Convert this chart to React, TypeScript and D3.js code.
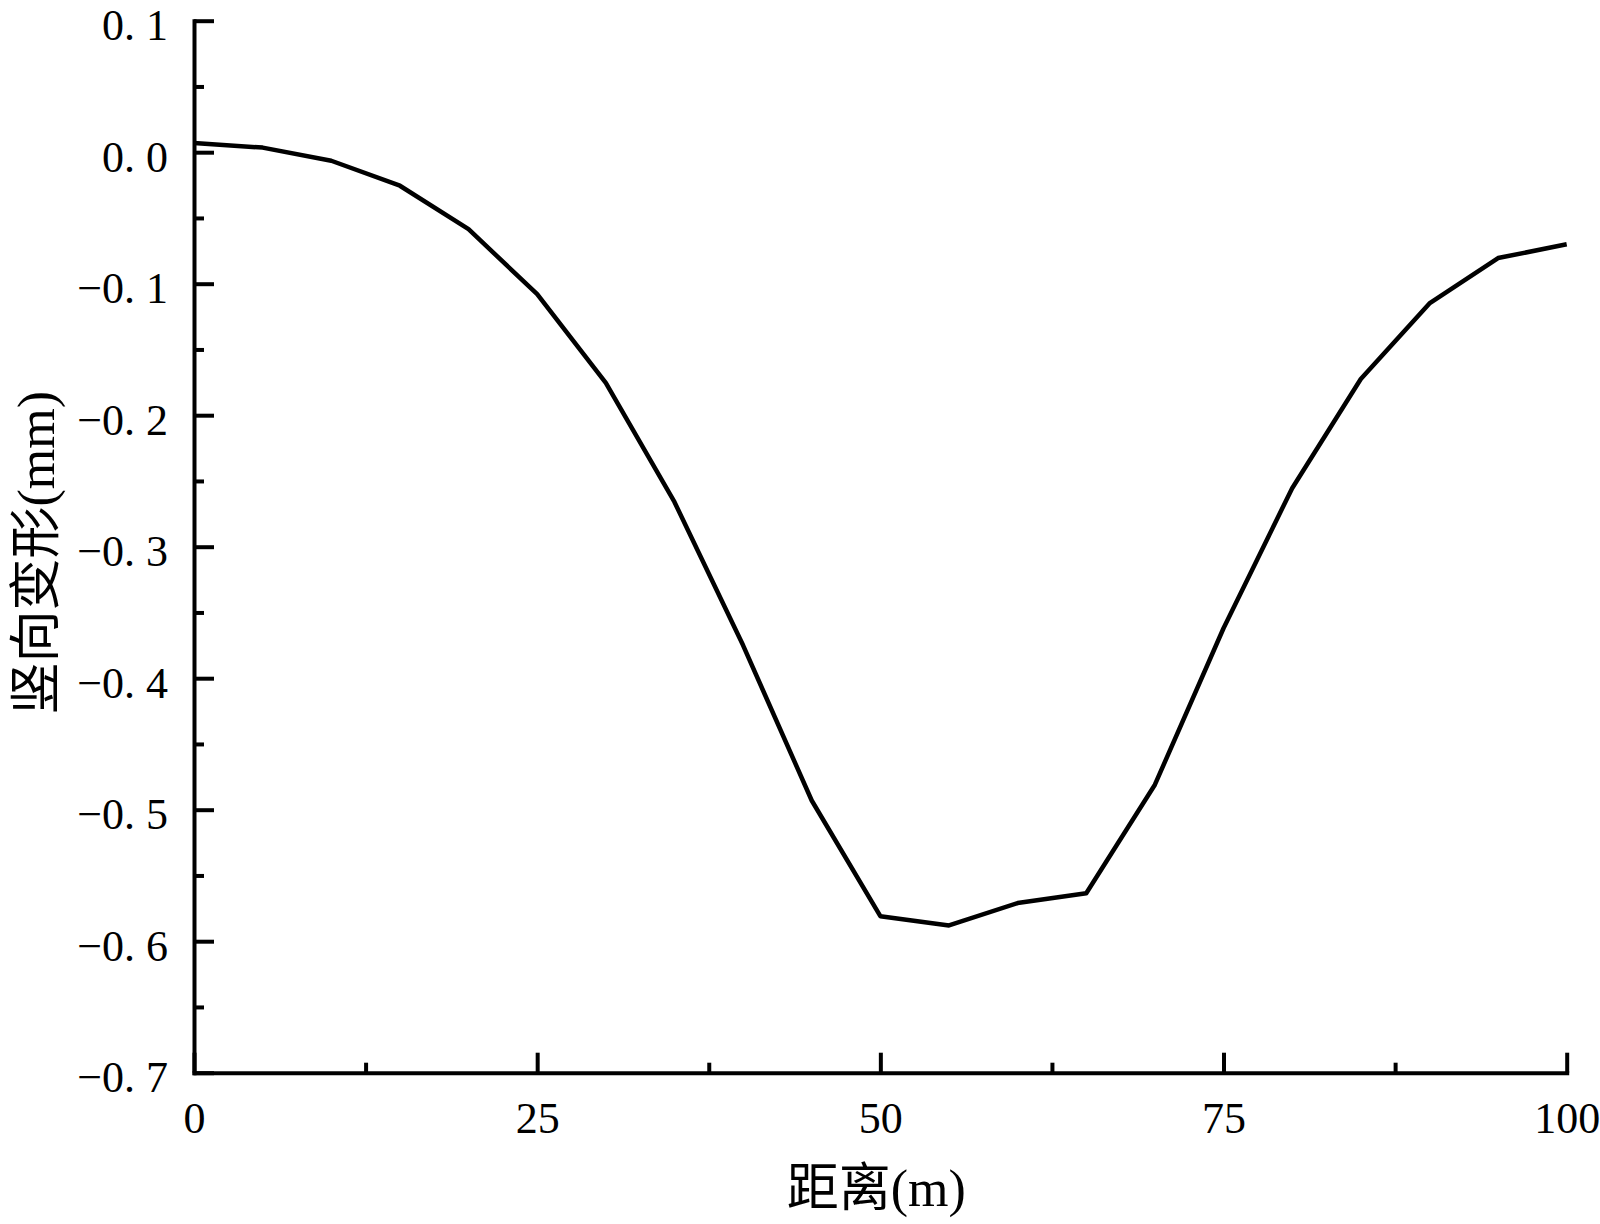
import React, { useEffect, useRef } from 'react';
import * as d3 from 'd3';

// distance along the line (m)
const distances = [0, 5, 10, 15, 20, 25, 30, 35, 40, 45, 50, 55, 60, 65, 70, 75, 80, 85, 90, 95, 100];
// vertical deformation (mm)
const deformation = [
  0.007, 0.0035, -0.0065, -0.0255, -0.0585, -0.108, -0.1755, -0.266, -0.375, -0.493,
  -0.581, -0.588, -0.571, -0.5635, -0.481, -0.362, -0.2555, -0.1725, -0.115, -0.0805, -0.07,
];

const xMajorTicks = [0, 25, 50, 75, 100];
const xMinorTicks = [12.5, 37.5, 62.5, 87.5];
const yMajorTicks = [0.1, 0, -0.1, -0.2, -0.3, -0.4, -0.5, -0.6, -0.7];
const yMinorTicks = [0.05, -0.05, -0.15, -0.25, -0.35, -0.45, -0.55, -0.65];

const xTitle = '距离(m)';
const yTitle = '竖向变形(mm)';

const W = 1600;
const H = 1224;

const App = () => {
  const ref = useRef<SVGSVGElement | null>(null);

  useEffect(() => {
    document.body.style.margin = '0';
    if (!ref.current) return;
    const svg = d3.select(ref.current);
    svg.selectAll('*').remove();

    const margin = { top: 20.7, right: 33.3, bottom: 151.3, left: 194 };
    const width = W - margin.left - margin.right;
    const height = H - margin.top - margin.bottom;
    const numFont = '"Liberation Serif", "DejaVu Serif", serif';
    const cjkFont = '"Liberation Serif", "Noto Sans CJK SC", serif';

    const g = svg.append('g').attr('transform', `translate(${margin.left},${margin.top})`);

    const x = d3.scaleLinear().domain([0, 100]).range([0, width]);
    const y = d3.scaleLinear().domain([-0.7, 0.1]).range([height, 0]);

    const data = distances.map((d, i) => ({ d, v: deformation[i] }));

    // curve
    g.append('path')
      .datum(data)
      .attr('fill', 'none')
      .attr('stroke', '#000')
      .attr('stroke-width', 4.5)
      .attr('stroke-linejoin', 'round')
      .attr('d', d3.line<{ d: number; v: number }>().x(p => x(p.d)).y(p => y(p.v)));

    const fmtY = d3.format('.1f');

    // minor ticks first
    g.append('g')
      .attr('transform', `translate(0,${height})`)
      .call(d3.axisBottom(x).tickValues(xMinorTicks).tickSize(-10).tickFormat(() => ''))
      .call(a => a.select('.domain').remove())
      .selectAll('line').attr('stroke-width', 4);

    g.append('g')
      .call(d3.axisLeft(y).tickValues(yMinorTicks).tickSize(-10).tickFormat(() => ''))
      .call(a => a.select('.domain').remove())
      .selectAll('line').attr('stroke-width', 4);

    // major x axis
    const xAxis = g.append('g')
      .attr('transform', `translate(0,${height})`)
      .call(d3.axisBottom(x).tickValues(xMajorTicks).tickSizeInner(-20).tickSizeOuter(0).tickPadding(29).tickFormat(d3.format('d')));
    xAxis.select('.domain').attr('stroke-width', 4).attr('stroke-linecap', 'square');
    xAxis.selectAll('line').attr('stroke-width', 4);
    xAxis.selectAll('text')
      .attr('fill', '#000')
      .style('font-family', numFont)
      .style('font-size', '44px');

    // major y axis
    const yAxis = g.append('g')
      .call(d3.axisLeft(y).tickValues(yMajorTicks).tickSizeInner(-20).tickSizeOuter(0).tickPadding(26).tickFormat(d => fmtY(d as number)));
    yAxis.select('.domain').attr('stroke-width', 4).attr('stroke-linecap', 'square');
    yAxis.selectAll('line').attr('stroke-width', 4);
    yAxis.selectAll<SVGTextElement, number>('text')
      .attr('fill', '#000')
      .attr('dy', '0.43em')
      .style('font-family', numFont)
      .style('font-size', '44px')
      .each(function (d) {
        // wide decimal point like the original's CJK font
        const parts = fmtY(d).split('.');
        const t = d3.select(this);
        t.text(null);
        t.append('tspan').text(parts[0] + '.');
        t.append('tspan').attr('dx', '0.25em').text(parts[1]);
      });

    // axis titles
    svg.append('text')
      .attr('x', margin.left + width / 2 - 4)
      .attr('y', 1188)
      .attr('text-anchor', 'middle')
      .attr('dominant-baseline', 'central')
      .style('font-family', cjkFont)
      .style('font-size', '52px')
      .attr('fill', '#000')
      .text(xTitle);

    svg.append('text')
      .attr('transform', `translate(36,${margin.top + height / 2 + 6}) rotate(-90)`)
      .attr('text-anchor', 'middle')
      .attr('dominant-baseline', 'central')
      .style('font-family', cjkFont)
      .style('font-size', '52px')
      .attr('fill', '#000')
      .text(yTitle);
  }, []);

  return <svg ref={ref} width={W} height={H} style={{ display: 'block', background: '#fff' }} />;
};

export default App;
